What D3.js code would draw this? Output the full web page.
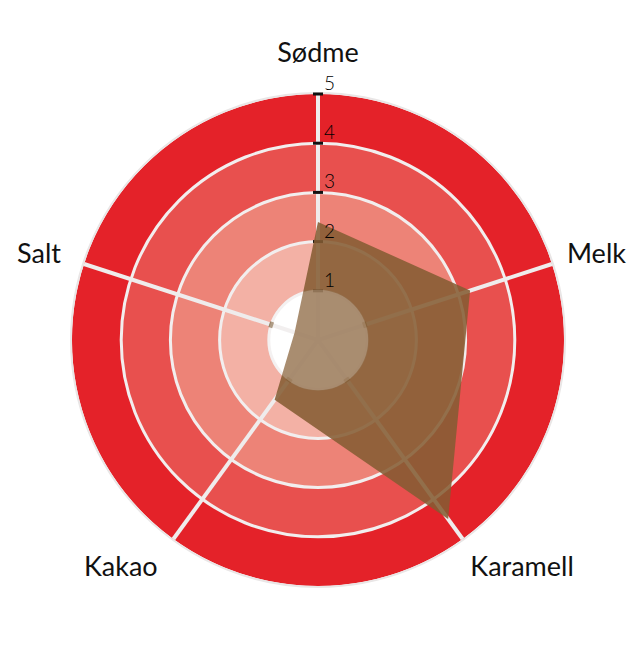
<!DOCTYPE html>
<html>
<head>
<meta charset="utf-8">
<script src="https://cdn.jsdelivr.net/npm/d3@7"></script>
<style>
  body { margin: 0; background: #fff; }
  text { font-family: Lato, "Noto Sans", sans-serif; fill: #111; }
</style>
</head>
<body>
<script>
// flavour profile
var axes = ['Sødme', 'Melk', 'Karamell', 'Kakao', 'Salt'];
var values = [2.4, 3.25, 4.5, 1.5, 0.5];
var levels = [1, 2, 3, 4, 5];
var tickLabels = ['1', '2', '3', '4', '5'];

var ringColors = ['#ffffff', '#f3b1a5', '#ed8377', '#e8504e', '#e42229'];

var width = 640;
var height = 648;
var cx = 318;
var cy = 340;
var maxR = 246;

var svg = d3.select('body').append('svg')
  .attr('width', width)
  .attr('height', height);

var g = svg.append('g').attr('transform', 'translate(' + cx + ',' + cy + ')');

var r = d3.scaleLinear().domain([0, 5]).range([0, maxR]);
var angle = d3.scaleLinear().domain([0, axes.length]).range([0, 2 * Math.PI]);

// rings, outermost first
var arc = d3.arc().startAngle(0).endAngle(2 * Math.PI);
g.selectAll('path.ring')
  .data(levels.slice().reverse())
  .enter().append('path')
  .attr('class', 'ring')
  .attr('d', function(d) { return arc({ innerRadius: r(d - 1), outerRadius: r(d) }); })
  .attr('fill', function(d) { return ringColors[d - 1]; });

// outer rim
g.append('circle')
  .attr('r', r(5) + 1)
  .attr('fill', 'none')
  .attr('stroke', '#e9e6e6')
  .attr('stroke-width', 2);

// ring separators
g.selectAll('circle.level')
  .data(levels.slice(0, 4))
  .enter().append('circle')
  .attr('class', 'level')
  .attr('r', function(d) { return r(d); })
  .attr('fill', 'none')
  .attr('stroke', '#f2eeee')
  .attr('stroke-width', 3);

// axis lines
var dirX = function(i) { return Math.sin(angle(i)); };
var dirY = function(i) { return -Math.cos(angle(i)); };

g.selectAll('line.axis')
  .data(axes)
  .enter().append('line')
  .attr('class', 'axis')
  .attr('x1', 0).attr('y1', 0)
  .attr('x2', function(d, i) { return dirX(i) * r(5); })
  .attr('y2', function(d, i) { return dirY(i) * r(5); })
  .attr('stroke', '#efecec')
  .attr('stroke-width', 4);

// ticks on the first axis
g.selectAll('rect.tick')
  .data(levels)
  .enter().append('rect')
  .attr('class', 'tick')
  .attr('x', -5)
  .attr('y', function(d) { return -r(d) - 1.5; })
  .attr('width', 10)
  .attr('height', 3)
  .attr('fill', '#111');

// small marks at level 1 on the other axes
g.selectAll('rect.mark')
  .data(axes.slice(1))
  .enter().append('rect')
  .attr('class', 'mark')
  .attr('x', -3).attr('y', -2)
  .attr('width', 6).attr('height', 4)
  .attr('fill', '#9a8266')
  .attr('transform', function(d, i) {
    var a = angle(i + 1) * 180 / Math.PI;
    return 'rotate(' + a + ') translate(0,' + (-r(1)) + ')';
  });

// the profile
var radar = d3.lineRadial()
  .angle(function(d, i) { return angle(i); })
  .radius(function(d) { return r(d); })
  .curve(d3.curveLinearClosed);

g.append('path')
  .datum(values)
  .attr('d', radar)
  .attr('fill', '#845c32')
  .attr('fill-opacity', 0.87);

// light disc in the middle
g.append('circle')
  .attr('r', r(1) + 1)
  .attr('fill', '#fff')
  .attr('fill-opacity', 0.2);

// tick labels
g.selectAll('text.tl')
  .data(levels)
  .enter().append('text')
  .attr('class', 'tl')
  .attr('x', 6)
  .attr('y', function(d) { return -r(d) - 4; })
  .attr('font-size', 19)
  .style('font-weight', 300)
  .style('fill', '#000')
  .text(function(d, i) { return tickLabels[i]; });

// axis labels, pushed out so the box clears the rim
var labelR = 266;
g.selectAll('text.label')
  .data(axes)
  .enter().append('text')
  .attr('class', 'label')
  .attr('text-anchor', 'middle')
  .attr('dy', '0.35em')
  .attr('font-size', 27)
  .text(function(d) { return d; })
  .each(function(d, i) {
    var w = this.getComputedTextLength();
    var dx = dirX(i), dy = dirY(i);
    var x = dx * labelR + (Math.abs(dx) > 0.1 ? Math.sign(dx) * w / 2 : 0) - 4;
    var y = dy * labelR + dy * 14 - (i === 0 ? 7 : 0);
    if (i === 0) x = 0;
    d3.select(this).attr('x', x).attr('y', y);
  });
</script>
</body>
</html>
